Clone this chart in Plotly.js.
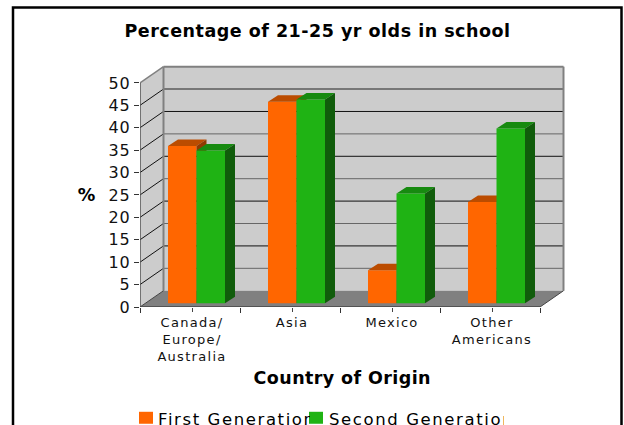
<!DOCTYPE html>
<html>
<head>
<meta charset="utf-8">
<script src="https://cdn.plot.ly/plotly-3.0.1.min.js"></script>
<style>
html,body{margin:0;padding:0;background:#fff;overflow:hidden}
#chart{width:624px;height:425px}
.xtick text{letter-spacing:1.3px}
.ytick text{letter-spacing:1px}
.gtitle{letter-spacing:0.5px}
.annotation text{letter-spacing:0.4px}
.annotation[data-index="2"] text,.annotation[data-index="3"] text{letter-spacing:1.6px}
</style>
</head>
<body>
<div id="chart"></div>
<script>
const categories = ['Canada/<br>Europe/<br>Australia', 'Asia', 'Mexico', 'Other<br>Americans'];
const firstGeneration = [35.1, 45, 7.4, 22.6];
const secondGeneration = [34.1, 45.5, 24.5, 39];
const yTicks = [0, 5, 10, 15, 20, 25, 30, 35, 40, 45, 50];

const W = 624, H = 425, L = 140, R = 570, T = 64.5, B = 307;
const xMax = 4.3, yMax = 54;
const depthX = 0.235, depthY = 3.63;     // wall depth, in axis units
const barDX = 0.1, barDY = 1.45;         // bar depth, in axis units
const barBase = 0.82, barStart = 0.28, barW = 0.285;

const px = v => (v - L) / (R - L);
const py = v => (B - v) / (B - T);
const poly = pts => 'M' + pts.map(p => p[0] + ',' + p[1]).join('L') + 'Z';
const seg = (x0, y0, x1, y1, color, width) => ({type:'line', layer:'below', xref:'x', yref:'y', x0, y0, x1, y1, line:{color, width}});
const fill = (pts, color) => ({type:'path', layer:'below', xref:'x', yref:'y', path:poly(pts), fillcolor:color, line:{width:0}});

const wallGrey = '#cccccc', edgeGrey = '#808080';
const shapes = [
  fill([[depthX,depthY],[4+depthX,depthY],[4+depthX,50+depthY],[depthX,50+depthY]], wallGrey),
  fill([[0,0],[depthX,depthY],[depthX,50+depthY],[0,50]], wallGrey),
  fill([[0,0],[4,0],[4+depthX,depthY],[depthX,depthY]], edgeGrey)
];
yTicks.slice(1, -1).forEach(v => {
  const dark = v % 10 === 0;
  shapes.push(seg(0, v, depthX, v + depthY, '#111111', 1));
  shapes.push(seg(depthX, v + depthY, 4 + depthX, v + depthY, dark ? '#111111' : (v === 45 ? '#777777' : '#666666'), v === 45 ? 2 : 1));
});
shapes.push(seg(0, 50, depthX, 50 + depthY, edgeGrey, 1.5));
shapes.push(seg(depthX, 50 + depthY, 4 + depthX, 50 + depthY, edgeGrey, 2));
shapes.push(seg(depthX, depthY, depthX, 50 + depthY, edgeGrey, 2));
shapes.push(seg(4 + depthX, depthY, 4 + depthX, 50 + depthY, edgeGrey, 2));
shapes.push(seg(0, 0, 0, 50, '#555555', 1.5));
shapes.push(seg(0, 0, 4, 0, '#444444', 1.5));
shapes.push(seg(4, 0, 4 + depthX, depthY, '#444444', 1));
shapes.push(seg(0, 0, depthX, depthY, '#444444', 1));

// frame and legend swatches
const frame = (x0, y0, x1, y1, o) => Object.assign({type:'rect', xref:'paper', yref:'paper', x0:px(x0), x1:px(x1), y0:py(y0), y1:py(y1)}, o);
shapes.push(frame(13, 7, 621.5, 440, {line:{color:'#000', width:2.5}, fillcolor:'rgba(0,0,0,0)', layer:'above'}));
shapes.push(frame(139, 412, 153, 424, {line:{width:0}, fillcolor:'#FF6600', layer:'above'}));
shapes.push(frame(309, 412, 323, 424, {line:{width:0}, fillcolor:'#1FB314', layer:'above'}));

function barTraces(values, shift, name, front, top, side, xa, ya) {
  const xs = values.map((_, i) => i + barStart + shift);
  const traces = [{
    type:'bar', name, x:xs.map(x => x + barW / 2), y:values, base:values.map(() => barBase), width:barW,
    marker:{color:front, line:{width:0}}, xaxis:xa, yaxis:ya, showlegend:false, hoverinfo:'y'
  }];
  values.forEach((v, i) => {
    const x0 = xs[i], x1 = x0 + barW, b = barBase, t = barBase + v;
    traces.push({type:'scatter', mode:'lines', fill:'toself', fillcolor:top, line:{width:0}, xaxis:xa, yaxis:ya, showlegend:false, hoverinfo:'skip',
      x:[x0, x1, x1 + barDX, x0 + barDX, x0], y:[t, t, t + barDY, t + barDY, t]});
    traces.push({type:'scatter', mode:'lines', fill:'toself', fillcolor:side, line:{width:0}, xaxis:xa, yaxis:ya, showlegend:false, hoverinfo:'skip',
      x:[x1, x1 + barDX, x1 + barDX, x1, x1], y:[b, b + barDY, t + barDY, t, b]});
  });
  return traces;
}

const data = [
  ...barTraces(firstGeneration, 0, 'First Generation', '#FF6600', '#BB4C00', '#8F3A00', 'x', 'y'),
  ...barTraces(secondGeneration, barW, 'Second Generation', '#1FB314', '#178A10', '#105C0B', 'x2', 'y2')
];

const fontFam = '"DejaVu Sans", Verdana, sans-serif';
const note = (text, x, y, size, bold, extra) => Object.assign({
  text: bold ? '<b>' + text + '</b>' : text, xref:'paper', yref:'paper', x:px(x), y:py(y), showarrow:false,
  font:{family:fontFam, size, color:'#000'}, xanchor:'center', yanchor:'middle'
}, extra || {});

const layout = {
  width:W, height:H, margin:{l:L, r:W - R, t:T, b:H - B, pad:0},
  paper_bgcolor:'#fff', plot_bgcolor:'#fff', showlegend:false, barmode:'overlay',
  title:{text:'<b>Percentage of 21-25 yr olds in school</b>', x:317.5 / W, xanchor:'center', y:1 - 31 / H, yanchor:'middle', font:{family:fontFam, size:17.5, color:'#000'}},
  xaxis:{range:[0, xMax], showgrid:false, zeroline:false, showline:false, fixedrange:true,
    tickmode:'array', tickvals:[0.52, 1.52, 2.52, 3.52], ticktext:categories, ticks:'outside', ticklen:3.5, tickwidth:0, ticklabelposition:'outside', tickangle:0,
    tickfont:{family:fontFam, size:13, color:'#111'},
    minor:{tickmode:'array', tickvals:[0, 1, 2, 3, 4], ticks:'outside', ticklen:5, tickcolor:'#333', tickwidth:1, showgrid:false}},
  yaxis:{range:[0, yMax], showgrid:false, zeroline:false, showline:false, fixedrange:true,
    tickmode:'array', tickvals:yTicks, ticks:'outside', ticklen:5, tickcolor:'#333', tickwidth:1,
    tickfont:{family:fontFam, size:16, color:'#111'}},
  xaxis2:{overlaying:'x', range:[0, xMax], visible:false, fixedrange:true},
  yaxis2:{overlaying:'y', range:[0, yMax], visible:false, fixedrange:true},
  shapes,
  annotations:[
    note('Country of Origin', 342.5, 378, 17.5, true),
    note('%', 87, 195, 17.5, true),
    note('First Generation', 157, 419.5, 16.5, false, {xanchor:'left', align:'left', width:152, borderpad:0}),
    note('Second Generation', 328, 419.5, 16.5, false, {xanchor:'left', align:'left', width:175, borderpad:0})
  ]
};

Plotly.newPlot('chart', data, layout, {staticPlot:true, displayModeBar:false});
</script>
</body>
</html>
